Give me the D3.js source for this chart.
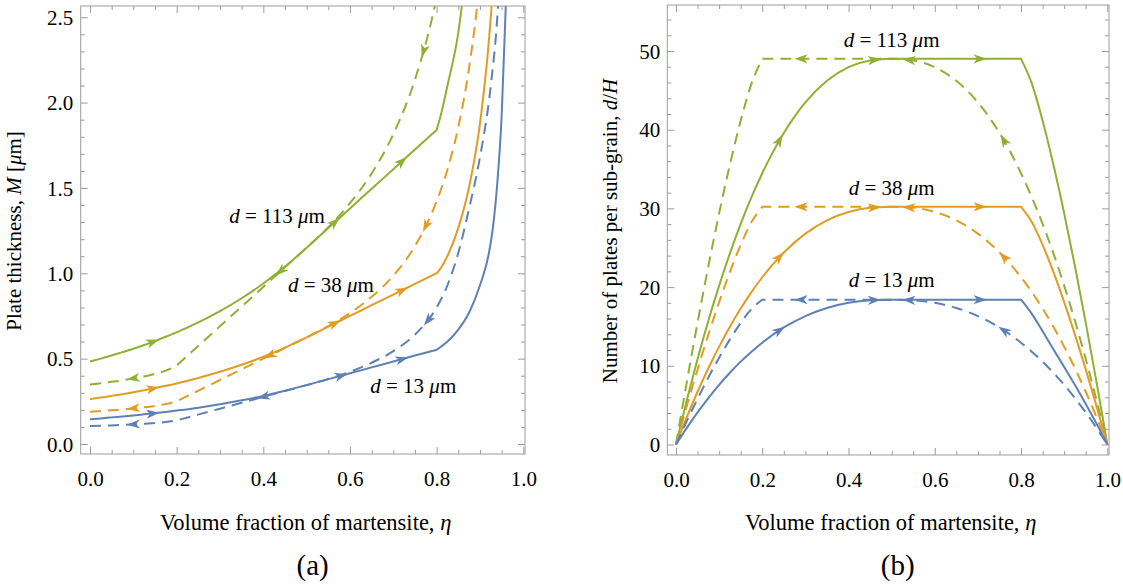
<!DOCTYPE html>
<html>
<head>
<meta charset="utf-8">
<script src="https://cdn.jsdelivr.net/npm/d3@7"></script>
<style>
  html, body { margin: 0; padding: 0; background: #ffffff; }
  svg { display: block; }
</style>
</head>
<body>
<script>
// ---------------------------------------------------------------------------
// Data: plate thickness M (µm) and plates per sub-grain d/H versus the
// martensite volume fraction η, for grain sizes d = 113, 38 and 13 µm.
// "Fwd" = forward transformation (solid), "Rev" = reverse (dashed).
// ---------------------------------------------------------------------------
const grainSizes = ["113", "38", "13"];

// (a) plate thickness
const etaFwdM = [0, 0.025, 0.05, 0.075, 0.1, 0.125, 0.15, 0.175, 0.2, 0.25, 0.3, 0.35, 0.4, 0.45, 0.5,
                 0.55, 0.6, 0.65, 0.7, 0.75, 0.8, 0.81, 0.825, 0.85, 0.875, 0.9, 0.92, 0.93, 0.94, 0.95, 0.96, 0.97];
const thick113Fwd = [0.483, 0.500, 0.518, 0.538, 0.558, 0.580, 0.603, 0.628, 0.654, 0.712, 0.778, 0.854, 0.940, 1.039, 1.150,
                     1.265, 1.380, 1.495, 1.610, 1.725, 1.840, 1.93, 2.10, 2.41, 2.95, 3.6, 4.3, 4.9, 5.7, 6.9, 8.7, 11.5];
const thick38Fwd  = [0.263, 0.272, 0.282, 0.292, 0.303, 0.315, 0.328, 0.341, 0.355, 0.387, 0.423, 0.464, 0.511, 0.565, 0.625,
                     0.688, 0.750, 0.813, 0.875, 0.938, 1.000, 1.032, 1.102, 1.266, 1.507, 1.877, 2.345, 2.680, 3.129, 3.758, 4.704, 6.279];
const thick13Fwd  = [0.145, 0.150, 0.156, 0.161, 0.167, 0.174, 0.181, 0.188, 0.196, 0.213, 0.233, 0.256, 0.282, 0.312, 0.345,
                     0.380, 0.414, 0.449, 0.483, 0.518, 0.552, 0.57, 0.60, 0.67, 0.77, 0.93, 1.11, 1.27, 1.53, 1.92, 2.6, 3.4];

const etaRevM = [0, 0.025, 0.05, 0.075, 0.1, 0.125, 0.15, 0.175, 0.2, 0.3, 0.4, 0.5, 0.55, 0.6, 0.65, 0.7, 0.75,
                 0.8, 0.825, 0.85, 0.875, 0.9, 0.925, 0.94, 0.95];
const thick113Rev = [0.348, 0.356, 0.364, 0.373, 0.384, 0.396, 0.411, 0.430, 0.460, 0.690, 0.920, 1.150, 1.270, 1.411, 1.585, 1.815, 2.135,
                     2.616, 2.959, 3.417, 4.06, 5.02, 6.63, 8.0, 9.85];
const thick38Rev  = [0.189, 0.193, 0.198, 0.203, 0.209, 0.215, 0.223, 0.234, 0.250, 0.375, 0.500, 0.625, 0.690, 0.767, 0.862, 0.986, 1.160,
                     1.422, 1.608, 1.857, 2.206, 2.731, 3.604, 4.48, 5.35];
const thick13Rev  = [0.105, 0.107, 0.109, 0.112, 0.115, 0.119, 0.123, 0.129, 0.138, 0.207, 0.276, 0.345, 0.381, 0.423, 0.476, 0.544, 0.641,
                     0.80, 0.93, 1.12, 1.38, 1.68, 2.1, 2.5, 2.96];

// (b) number of plates per sub-grain
const etaFwdN = [0, 0.025, 0.05, 0.075, 0.1, 0.125, 0.15, 0.175, 0.2, 0.25, 0.3, 0.35, 0.4, 0.45, 0.5,
                 0.8, 0.825, 0.85, 0.875, 0.9, 0.925, 0.95, 0.975, 0.99, 1];
const plates113Fwd = [0, 5.63, 10.87, 15.72, 20.19, 24.29, 28.03, 31.42, 34.47, 39.59, 43.47, 46.21, 47.94, 48.79, 49,
                      49, 45.85, 41.14, 35.57, 29.38, 22.65, 15.48, 7.92, 3.21, 0];
const plates38Fwd  = [0, 3.47, 6.70, 9.69, 12.44, 14.97, 17.28, 19.37, 21.25, 24.40, 26.79, 28.48, 29.54, 30.07, 30.2,
                      30.2, 28.26, 25.36, 21.93, 18.10, 13.96, 9.54, 4.88, 1.98, 0];
const plates13Fwd  = [0, 2.11, 4.08, 5.90, 7.58, 9.12, 10.53, 11.80, 12.94, 14.87, 16.32, 17.35, 18.00, 18.32, 18.4,
                      18.4, 16.6, 14.4, 12.1, 9.85, 7.55, 5.15, 2.65, 1.07, 0];

const etaRevN = [0, 0.01, 0.025, 0.05, 0.075, 0.1, 0.125, 0.15, 0.175, 0.2, 0.5, 0.55, 0.6, 0.65, 0.7, 0.75,
                 0.8, 0.825, 0.85, 0.875, 0.9, 0.925, 0.95, 0.975, 1];
const plates113Rev = [0, 3.21, 7.92, 15.48, 22.65, 29.38, 35.57, 41.14, 45.85, 49, 49, 48.79, 47.94, 46.21, 43.47, 39.59,
                      34.47, 31.42, 28.03, 24.29, 20.19, 15.72, 10.87, 5.63, 0];
const plates38Rev  = [0, 1.98, 4.88, 9.54, 13.96, 18.10, 21.93, 25.36, 28.26, 30.2, 30.2, 30.07, 29.54, 28.48, 26.79, 24.40,
                      21.25, 19.37, 17.28, 14.97, 12.44, 9.69, 6.70, 3.47, 0];
const plates13Rev  = [0, 1.21, 2.97, 5.81, 8.51, 11.03, 13.36, 15.45, 17.22, 18.4, 18.4, 18.32, 18.00, 17.35, 16.32, 14.87,
                      12.94, 11.80, 10.53, 9.12, 7.58, 5.90, 4.08, 2.11, 0];

// tick values
const etaTicks = [0, 0.2, 0.4, 0.6, 0.8, 1.0];
const thickTicks = [0, 0.5, 1.0, 1.5, 2.0, 2.5];
const plateTicks = [0, 10, 20, 30, 40, 50];

// ---------------------------------------------------------------------------
// Styling and layout
// ---------------------------------------------------------------------------
const W = 1123, H = 585;
const SERIF = "'Liberation Serif', 'Times New Roman', Times, serif";
const FS = 21;
const FS_XTITLE = 22.5;
const FRAME_COLOR = "#9c9c9c";
const colors = { "113": "#8FB032", "38": "#E19C24", "13": "#5E81B5" };
const DASH = "11,7";
const LINE_W = 2;

const svg = d3.select("body").append("svg")
  .attr("width", W).attr("height", H)
  .attr("viewBox", `0 0 ${W} ${H}`)
  .style("font-family", SERIF);
svg.append("rect").attr("width", W).attr("height", H).attr("fill", "#fff");

// Build a path string from several monotone pieces so that the kinks stay sharp.
function kinkedPath(etas, vals, x, y, breaks) {
  const pts = etas.map((e, i) => [e, vals[i]]);
  const pieces = [];
  let cur = [];
  pts.forEach(p => {
    cur.push(p);
    if (breaks.some(b => Math.abs(b - p[0]) < 1e-9) && cur.length > 1) {
      pieces.push(cur);
      cur = [p];
    }
  });
  if (cur.length > 1) pieces.push(cur);
  const gen = d3.line().x(d => x(d[0])).y(d => y(d[1])).curve(d3.curveMonotoneX);
  return pieces.map((pc, i) => {
    const s = gen(pc);
    return i === 0 ? s : "L" + s.slice(1);
  }).join("");
}

// Arrowhead placed on a drawn path at a given η, oriented along the path.
function addArrows(g, pathNode, x, etas, reverse, color) {
  const total = pathNode.getTotalLength();
  etas.forEach(e => {
    const tx = x(e);
    let lo = 0, hi = total;
    for (let k = 0; k < 50; k++) {
      const mid = (lo + hi) / 2;
      if (pathNode.getPointAtLength(mid).x < tx) lo = mid; else hi = mid;
    }
    const l = (lo + hi) / 2;
    const p = pathNode.getPointAtLength(l);
    const a = pathNode.getPointAtLength(Math.max(0, l - 3));
    const b = pathNode.getPointAtLength(Math.min(total, l + 3));
    let ang = Math.atan2(b.y - a.y, b.x - a.x) * 180 / Math.PI;
    if (reverse) ang += 180;
    g.append("path")
      .attr("d", "M6.5,0 L-6.5,-4.6 L-3,0 L-6.5,4.6 Z")
      .attr("fill", color)
      .attr("transform", `translate(${p.x},${p.y}) rotate(${ang})`);
  });
}

function drawPanel(cfg) {
  const g = svg.append("g");
  const { x, y, frame } = cfg;

  // clip region = plotting frame
  const clipId = "clip-" + cfg.id;
  svg.append("defs").append("clipPath").attr("id", clipId)
    .append("rect")
    .attr("x", frame.x0).attr("y", frame.y0)
    .attr("width", frame.x1 - frame.x0).attr("height", frame.y1 - frame.y0);

  // axes (ticks on all four sides of the frame, pointing inward)
  const styleAxis = sel => {
    sel.select(".domain").remove();
    sel.selectAll("line").attr("stroke", FRAME_COLOR).attr("stroke-width", 1);
    sel.selectAll("text").attr("font-family", SERIF).attr("font-size", FS).attr("fill", "#000");
    sel.attr("font-family", null).attr("font-size", null);
  };
  const xMinor = d3.range(0, 1.0001, 0.05).filter(v => !cfg.xMajor.some(m => Math.abs(m - v) < 1e-6));
  const yMinor = d3.range(0, cfg.yMinorMax + 1e-6, cfg.yMinorStep)
    .filter(v => !cfg.yMajor.some(m => Math.abs(m - v) < 1e-6));

  const bottom = g.append("g").attr("transform", `translate(0,${frame.y1})`);
  bottom.call(d3.axisBottom(x).tickValues(cfg.xMajor).tickSize(-7).tickPadding(17.5)
    .tickFormat(d3.format(".1f"))).call(styleAxis);
  bottom.append("g").call(d3.axisBottom(x).tickValues(xMinor).tickSize(-4).tickFormat("")).call(styleAxis);

  const top = g.append("g").attr("transform", `translate(0,${frame.y0})`);
  top.call(d3.axisTop(x).tickValues(cfg.xMajor).tickSize(-7).tickFormat("")).call(styleAxis);
  top.append("g").call(d3.axisTop(x).tickValues(xMinor).tickSize(-4).tickFormat("")).call(styleAxis);

  const left = g.append("g").attr("transform", `translate(${frame.x0},0)`);
  left.call(d3.axisLeft(y).tickValues(cfg.yMajor).tickSize(-7).tickPadding(cfg.yPad)
    .tickFormat(cfg.yFormat)).call(styleAxis);
  left.selectAll("text").attr("dy", "0.34em");
  left.append("g").call(d3.axisLeft(y).tickValues(yMinor).tickSize(-4).tickFormat("")).call(styleAxis);

  const right = g.append("g").attr("transform", `translate(${frame.x1},0)`);
  right.call(d3.axisRight(y).tickValues(cfg.yMajor).tickSize(-7).tickFormat("")).call(styleAxis);
  right.append("g").call(d3.axisRight(y).tickValues(yMinor).tickSize(-4).tickFormat("")).call(styleAxis);

  // frame
  g.append("rect")
    .attr("x", frame.x0).attr("y", frame.y0)
    .attr("width", frame.x1 - frame.x0).attr("height", frame.y1 - frame.y0)
    .attr("fill", "none").attr("stroke", FRAME_COLOR).attr("stroke-width", 1);

  // curves
  const plot = g.append("g").attr("clip-path", `url(#${clipId})`);
  cfg.series.forEach(s => {
    const color = colors[s.d];
    const path = plot.append("path")
      .attr("d", kinkedPath(s.eta, s.vals, x, y, s.breaks))
      .attr("fill", "none")
      .attr("stroke", color)
      .attr("stroke-width", LINE_W)
      .attr("stroke-linejoin", "round")
      .attr("stroke-dasharray", s.dashed ? DASH : null);
    addArrows(plot, path.node(), x, s.arrows, s.dashed, color);
  });

  // curve labels
  cfg.labels.forEach(lb => {
    const t = g.append("text")
      .attr("x", x(lb.eta)).attr("y", y(lb.val))
      .attr("text-anchor", "middle")
      .attr("font-size", FS).attr("fill", "#000");
    t.append("tspan").attr("font-style", "italic").text("d");
    t.append("tspan").text(` = ${lb.d} `);
    t.append("tspan").attr("font-style", "italic").text("\u03bc");
    t.append("tspan").text("m");
  });

  // x-axis title
  const xt = g.append("text")
    .attr("x", x(0.5) - 1).attr("y", 529.5)
    .attr("text-anchor", "middle").attr("font-size", FS_XTITLE).attr("fill", "#000");
  xt.append("tspan").text("Volume fraction of martensite, ");
  xt.append("tspan").attr("font-style", "italic").text("\u03b7");

  // y-axis title
  const yt = g.append("text")
    .attr("transform", `translate(${cfg.yTitleX},231) rotate(-90)`)
    .attr("text-anchor", "middle").attr("font-size", FS).attr("fill", "#000");
  cfg.yTitle.forEach(part => {
    yt.append("tspan").attr("font-style", part.italic ? "italic" : null).text(part.t);
  });

  // panel letter
  g.append("text")
    .attr("x", x(0.5) + 6).attr("y", 574.5)
    .attr("text-anchor", "middle").attr("font-size", 29).attr("fill", "#000")
    .text(cfg.letter);
}

const fwdBreaks = [0.5, 0.8];
const revBreaks = [0.2, 0.5];

// Panel (a): plate thickness
drawPanel({
  id: "a",
  frame: { x0: 80.7, x1: 525, y0: 6, y1: 454 },
  x: d3.scaleLinear().domain([0, 1]).range([90, 523.3]),
  y: d3.scaleLinear().domain([0, 2.5]).range([444, 17.25]),
  xMajor: etaTicks,
  yMajor: thickTicks,
  yMinorStep: 0.1, yMinorMax: 2.5,
  yFormat: d3.format(".1f"),
  yPad: 7.5,
  yTitleX: 21,
  yTitle: [{ t: "Plate thickness, " }, { t: "M", italic: true }, { t: " [" }, { t: "\u03bc", italic: true }, { t: "m]" }],
  letter: "(a)",
  series: [
    { d: "113", eta: etaFwdM, vals: thick113Fwd, dashed: false, breaks: fwdBreaks, arrows: [0.145, 0.565, 0.72] },
    { d: "113", eta: etaRevM, vals: thick113Rev, dashed: true,  breaks: revBreaks, arrows: [0.1, 0.44, 0.77] },
    { d: "38",  eta: etaFwdM, vals: thick38Fwd,  dashed: false, breaks: fwdBreaks, arrows: [0.145, 0.565, 0.72] },
    { d: "38",  eta: etaRevM, vals: thick38Rev,  dashed: true,  breaks: revBreaks, arrows: [0.1, 0.415, 0.775] },
    { d: "13",  eta: etaFwdM, vals: thick13Fwd,  dashed: false, breaks: fwdBreaks, arrows: [0.145, 0.58, 0.72] },
    { d: "13",  eta: etaRevM, vals: thick13Rev,  dashed: true,  breaks: revBreaks, arrows: [0.1, 0.4, 0.78] }
  ],
  labels: [
    { d: "113", eta: 0.4316, val: 1.295 },
    { d: "38",  eta: 0.556,  val: 0.892 },
    { d: "13",  eta: 0.746,  val: 0.297 }
  ]
});

// Panel (b): number of plates per sub-grain
drawPanel({
  id: "b",
  frame: { x0: 667.3, x1: 1109, y0: 5, y1: 455 },
  x: d3.scaleLinear().domain([0, 1]).range([676, 1107.3]),
  y: d3.scaleLinear().domain([0, 50]).range([444.5, 51]),
  xMajor: etaTicks,
  yMajor: plateTicks,
  yMinorStep: 2, yMinorMax: 54,
  yFormat: d3.format("d"),
  yPad: 7,
  yTitleX: 617,
  yTitle: [{ t: "Number of plates per sub-grain, " }, { t: "d", italic: true }, { t: "/" }, { t: "H", italic: true }],
  letter: "(b)",
  series: [
    { d: "113", eta: etaFwdN, vals: plates113Fwd, dashed: false, breaks: fwdBreaks, arrows: [0.24, 0.46, 0.705] },
    { d: "113", eta: etaRevN, vals: plates113Rev, dashed: true,  breaks: revBreaks, arrows: [0.29, 0.54, 0.76] },
    { d: "38",  eta: etaFwdN, vals: plates38Fwd,  dashed: false, breaks: fwdBreaks, arrows: [0.24, 0.46, 0.705] },
    { d: "38",  eta: etaRevN, vals: plates38Rev,  dashed: true,  breaks: revBreaks, arrows: [0.29, 0.54, 0.76] },
    { d: "13",  eta: etaFwdN, vals: plates13Fwd,  dashed: false, breaks: fwdBreaks, arrows: [0.24, 0.46, 0.705] },
    { d: "13",  eta: etaRevN, vals: plates13Rev,  dashed: true,  breaks: revBreaks, arrows: [0.29, 0.54, 0.76] }
  ],
  labels: [
    { d: "113", eta: 0.5, val: 50.5 },
    { d: "38",  eta: 0.5, val: 31.7 },
    { d: "13",  eta: 0.5, val: 20.05 }
  ]
});
</script>
</body>
</html>
